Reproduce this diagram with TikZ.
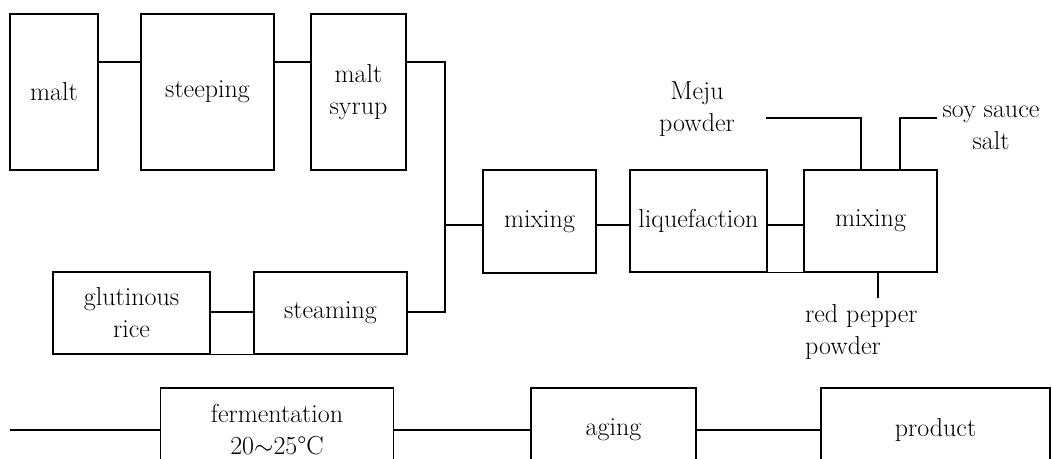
\documentclass[tikz,border=0pt]{standalone}
\usepackage{fontspec}
\begin{document}
\begin{tikzpicture}[x=1pt,y=-1pt,
  every node/.style={font=\fontsize{26}{32}\selectfont, inner sep=0pt},
  box/.style={draw, line width=1.1pt, align=center},
  thickbox/.style={box, line width=2.2pt},
  conn/.style={line width=2pt},
  thin/.style={line width=1.1pt},
  lbl/.style={align=center}]
\useasboundingbox (0,0) rectangle (1051,458);
\clip (0,0) rectangle (1051,458);
% top row
\node[box, minimum width=88, minimum height=156] (malt) at (54,92) {malt};
\node[box, minimum width=133, minimum height=156] (steep) at (207.5,92) {steeping};
\node[box, minimum width=95, minimum height=156] (syrup) at (358.5,92) {malt\\syrup};
% rice row
\node[box, minimum width=157, minimum height=82] (rice) at (131.5,313) {glutinous\\rice};
\node[box, minimum width=153, minimum height=82] (steam) at (330.5,313) {steaming};
% middle row
\node[thickbox, minimum width=113, minimum height=103] (mix1) at (539.5,221.5) {mixing};
\node[box, minimum width=137, minimum height=102] (liq) at (698.5,221) {liquefaction};
\node[box, minimum width=133, minimum height=102] (mix2) at (870.5,221) {mixing};
% bottom row
\node[box, minimum width=233, minimum height=84] (ferm) at (277,430) {fermentation\\20$\sim$25\textdegree C};
\node[box, minimum width=165, minimum height=84] (aging) at (613.5,430) {aging};
\node[box, minimum width=229, minimum height=84] (prod) at (935.5,430) {product};
% labels
\node[lbl] (meju) at (697,109) {Meju\\powder};
\node[lbl] (soy) at (991,128) {soy sauce\\salt};
\node[align=left, anchor=west] (red) at (805,332) {red pepper\\powder};
% coordinates
\coordinate (jt) at (445,62);
\coordinate (jb) at (445,312);
\coordinate (jm) at (445,225);
\coordinate (mejuA) at (766,118);
\coordinate (mejuB) at (861,118);
\coordinate (soyA) at (900,118);
\coordinate (soyB) at (937,118);
\coordinate (redA) at (878,298);
\coordinate (start) at (10,430);
% connectors
\draw[conn] ([yshift=30pt]malt.east) -- ([yshift=30pt]malt.east -| steep.west);
\draw[conn] ([yshift=30pt]steep.east) -- ([yshift=30pt]steep.east -| syrup.west);
\draw[conn] ([yshift=30pt]syrup.east) -- (jt) -- (jb) -- (jb -| steam.east);
\draw[conn] (jm) -- (jm -| mix1.west);
\draw[conn] (rice.east |- jb) -- (jb -| steam.west);
\draw[thin] (rice.south east) -- (steam.south west);
\draw[conn] (mix1.east |- jm) -- (jm -| liq.west);
\draw[conn] (liq.east |- jm) -- (jm -| mix2.west);
\draw[thin] (liq.south east) -- (mix2.south west);
\draw[conn] (mejuA) -- (mejuB) -- (mejuB |- mix2.north);
\draw[conn] (soyA |- mix2.north) -- (soyA) -- (soyB);
\draw[conn] (redA |- mix2.south) -- (redA);
\draw[conn] (start) -- (ferm.west);
\draw[conn] (ferm.east) -- (aging.west);
\draw[conn] (aging.east) -- (prod.west);
\end{tikzpicture}
\end{document}
